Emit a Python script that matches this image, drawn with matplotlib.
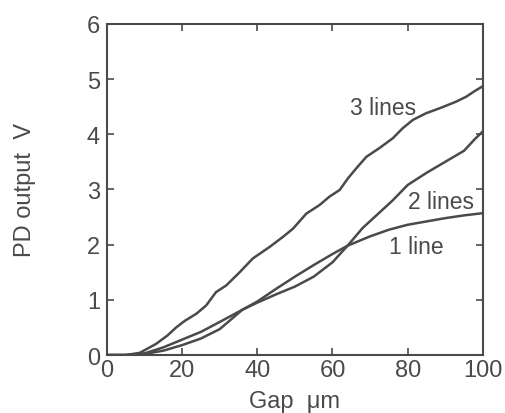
import matplotlib
matplotlib.use("Agg")
import matplotlib.pyplot as plt

# gap (um) and PD output (V)
gap_3 = [0, 5, 8.7, 13, 16, 18.4, 20.7, 23.8, 26.4, 29, 31.7, 35.3, 38.8, 43.3, 46.8, 49.5, 53, 56.6,
         59.2, 61.9, 64.1, 66.3, 69, 72.5, 76.1, 78.7, 81.4, 84.9, 88.5, 92.9, 95.6, 97.8, 100]
pd_3 = [0, 0.0, 0.04, 0.2, 0.35, 0.5, 0.62, 0.75, 0.9, 1.14, 1.26, 1.5, 1.75, 1.96, 2.14, 2.29, 2.56, 2.72,
        2.87, 2.99, 3.2, 3.38, 3.59, 3.75, 3.93, 4.11, 4.26, 4.38, 4.47, 4.59, 4.68, 4.78, 4.87]

gap_2 = [0, 5, 10, 15, 20, 25, 30, 36, 40, 45, 50, 55, 60, 64, 68, 72, 76, 80, 85, 90, 95, 98, 100]
pd_2 = [0, 0.0, 0.03, 0.14, 0.28, 0.42, 0.6, 0.82, 0.95, 1.1, 1.24, 1.42, 1.68, 1.98, 2.3, 2.55, 2.8, 3.08,
        3.3, 3.5, 3.7, 3.92, 4.05]

gap_1 = [0, 5, 10, 15, 20, 25, 30, 36, 40, 45, 50, 55, 60, 64, 70, 75, 80, 85, 90, 95, 100]
pd_1 = [0, 0.0, 0.02, 0.08, 0.18, 0.3, 0.47, 0.82, 0.97, 1.2, 1.42, 1.63, 1.83, 1.98, 2.15, 2.27, 2.36,
        2.42, 2.48, 2.53, 2.57]

INK = "#4a4a4a"
plt.rcParams["font.family"] = ["Liberation Sans", "DejaVu Sans"]

fig = plt.figure(figsize=(5.05, 4.14), dpi=100)
ax = fig.add_axes([0.212, 0.140, 0.744, 0.800])
for g, v in [(gap_3, pd_3), (gap_2, pd_2), (gap_1, pd_1)]:
    ax.plot(g, v, color=INK, lw=1.8)

ax.text(73.4, 4.49, "3 lines", fontsize=16.5, color=INK, ha="center", va="center")
ax.text(89, 2.79, "2 lines", fontsize=16.5, color=INK, ha="center", va="center")
ax.text(82.4, 1.97, "1 line", fontsize=16.5, color=INK, ha="center", va="center")

ax.set_xlim(0, 100); ax.set_ylim(0, 6)
ax.set_xticks(range(0, 101, 20)); ax.set_yticks(range(0, 7))
ax.tick_params(direction="in", top=True, right=True, length=5, width=1.2, colors=INK,
               labelsize=17, labelcolor=INK)
ax.tick_params(axis="y", pad=5)
ax.tick_params(axis="x", pad=3)
for s in ax.spines.values():
    s.set_color(INK); s.set_linewidth(1.5)
ax.set_xlabel("Gap  \u03bcm", fontsize=17, color=INK)
ax.set_ylabel("PD output  V", fontsize=17, color=INK)
ax.xaxis.set_label_coords(0.5, -0.105)
ax.yaxis.set_label_coords(-0.19, 0.5)
fig.savefig("out.png", dpi=100)
